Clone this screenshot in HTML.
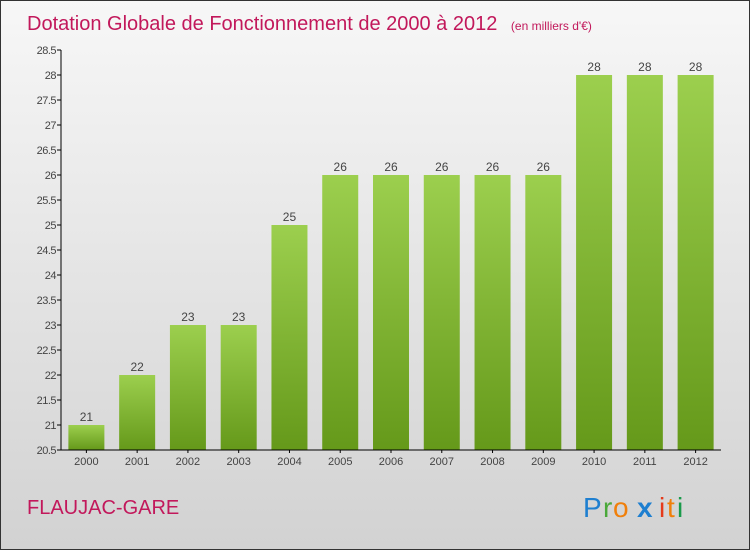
<!DOCTYPE html>
<html><head><meta charset="utf-8"><style>
body{margin:0;width:750px;height:550px;overflow:hidden;font-family:"Liberation Sans",sans-serif}
</style></head><body>
<svg width="750" height="550" xmlns="http://www.w3.org/2000/svg">
<defs>
<linearGradient id="bg" x1="0" y1="0" x2="0" y2="1"><stop offset="0" stop-color="#f7f7f7"/><stop offset="1" stop-color="#d2d2d2"/></linearGradient>
<linearGradient id="bar" x1="0" y1="0" x2="0" y2="1"><stop offset="0" stop-color="#9ccf4e"/><stop offset="1" stop-color="#65991a"/></linearGradient>
</defs>
<rect x="0.5" y="0.5" width="749" height="549" fill="url(#bg)" stroke="#333"/>
<text x="27" y="30" font-size="20" fill="#c2185b">Dotation Globale de Fonctionnement de 2000 à 2012 <tspan font-size="12" dx="8">(en milliers d'€)</tspan></text>
<g id="yaxis"></g>
<g id="bars"></g>
<g id="xaxis"></g>
<text x="27" y="514" font-size="20" fill="#c2185b">FLAUJAC-GARE</text>
<g font-size="28" font-family="Liberation Sans, sans-serif">
<text x="583" y="517" fill="#1e7fd0">P</text><text x="603" y="517" fill="#4aa83a">r</text><text x="613" y="517" fill="#f07f0a">o</text><text x="637" y="517" fill="#1e7fd0" font-weight="bold">x</text><text x="659" y="517" fill="#e53a1a">i</text><text x="667" y="517" fill="#f07f0a">t</text><text x="677" y="517" fill="#1a9a4a">i</text>
</g>
</svg>
<script>
const years=["2000","2001","2002","2003","2004","2005","2006","2007","2008","2009","2010","2011","2012"];
const values=[21,22,23,23,25,26,26,26,26,26,28,28,28];
const yTicks=[20.5,21,21.5,22,22.5,23,23.5,24,24.5,25,25.5,26,26.5,27,27.5,28,28.5];
const NS="http://www.w3.org/2000/svg";
const x0=61,x1=721,yMin=20.5,yMax=28.5,py0=450,py1=50;
const y=v=>py0-(v-yMin)/(yMax-yMin)*(py0-py1);
const step=(x1-x0)/years.length;
function mk(t,a,p){const e=document.createElementNS(NS,t);for(const k in a)e.setAttribute(k,a[k]);p.appendChild(e);return e;}
const ya=document.getElementById('yaxis'),ba=document.getElementById('bars'),xa=document.getElementById('xaxis');
mk('line',{x1:x0,y1:py1,x2:x0,y2:py0,stroke:'#000'},ya);
yTicks.forEach(t=>{
 mk('line',{x1:x0-4,y1:y(t),x2:x0,y2:y(t),stroke:'#000'},ya);
 const l=mk('text',{x:x0-5,y:y(t)+4,'font-size':11,'text-anchor':'end',fill:'#444','letter-spacing':'-0.5'},ya);
 l.textContent=t;
 
 
});
mk('line',{x1:x0,y1:py0,x2:x1,y2:py0,stroke:'#000'},xa);
years.forEach((yr,i)=>{
 const cx=x0+step*(i+0.5);
 const r=mk('rect',{x:cx-18,y:y(values[i]),width:36,height:py0-y(values[i]),fill:'url(#bar)'},ba);
 
 
 const v=mk('text',{x:cx,y:y(values[i])-4,'font-size':12,'text-anchor':'middle',fill:'#444'},ba);
 v.textContent=values[i];
 
 
 mk('line',{x1:cx,y1:py0,x2:cx,y2:py0+3,stroke:'#000'},xa);
 const l=mk('text',{x:cx,y:py0+15,'font-size':11,'text-anchor':'middle',fill:'#444'},xa);
 l.textContent=yr;
 
 
});
</script>
</body></html>
